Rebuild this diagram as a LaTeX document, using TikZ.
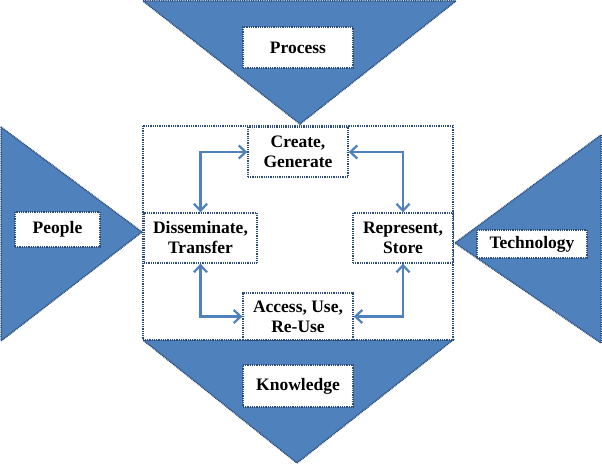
\documentclass[tikz,border=0pt]{standalone}
\usepackage{fontspec}
\setmainfont{Liberation Serif}
\usetikzlibrary{arrows.meta}
\definecolor{tfill}{RGB}{79,129,189}
\definecolor{tline}{RGB}{44,77,122}
\definecolor{arr}{RGB}{79,129,189}
\tikzset{
  tri/.style={fill=tfill,draw=tline,dash pattern=on 1pt off 0.8pt,line width=1.5pt,line join=miter},
  lbl/.style={fill=white,draw=tline,dash pattern=on 1pt off 0.8pt,line width=1.3pt,inner sep=0pt,align=center,
    font=\fontsize{17.5}{20}\selectfont\bfseries},
  stagebox/.style={fill=white,draw=tline,dash pattern=on 1pt off 0.8pt,line width=1.3pt,inner sep=0pt,align=center,
    font=\fontsize{17.5}{20}\selectfont\bfseries},
  biarrow/.style={draw=arr,line width=2.2pt,{Straight Barb[length=7pt,width=13pt,line width=2.2pt]}-{Straight Barb[length=7pt,width=13pt,line width=2.2pt]}}
}
\begin{document}
\begin{tikzpicture}[x=1pt,y=-1pt]
\useasboundingbox (0,0) rectangle (602,465);
% triangles
\draw[tri] (143,1) -- (456,1) -- (300,124) -- cycle;
\draw[tri] (1,127) -- (1,341) -- (142,232) -- cycle;
\draw[tri] (601,135) -- (601,343) -- (455,243) -- cycle;
\draw[tri] (143,340) -- (453,340) -- (297,463) -- cycle;
% central frame
\draw[fill=white,draw=tline,dash pattern=on 1pt off 0.8pt,line width=1.5pt] (143,126) rectangle (453,340);
% outer labels
\node[lbl,minimum width=110pt,minimum height=41pt] (process) at (298,47.5) {Process};
\node[lbl,minimum width=85pt,minimum height=35pt] (people) at (57.5,229.5) {People};
\node[lbl,minimum width=110pt,minimum height=28pt] (tech) at (532,244) {Technology};
\node[lbl,minimum width=110pt,minimum height=42pt] (know) at (298,386) {Knowledge};
% inner stages
\node[stagebox,minimum width=100pt,minimum height=50pt] (create) at (298,152) {Create,\\Generate};
\node[stagebox,minimum width=113pt,minimum height=50pt] (diss) at (200.5,238) {Disseminate,\\Transfer};
\node[stagebox,minimum width=100pt,minimum height=50pt] (rep) at (403,238) {Represent,\\Store};
\node[stagebox,minimum width=110pt,minimum height=47pt] (access) at (298,316.5) {Access, Use,\\Re-Use};
% connectors
\draw[biarrow] (create.west) -| (diss.north);
\draw[biarrow] (create.east) -| (rep.north);
\draw[biarrow] (diss.south) |- (access.west);
\draw[biarrow] (rep.south) |- (access.east);
\end{tikzpicture}
\end{document}
